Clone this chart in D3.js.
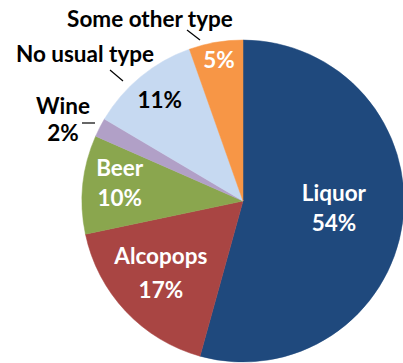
<!DOCTYPE html>
<html>
<head>
<meta charset="utf-8">
<script src="https://cdn.jsdelivr.net/npm/d3@7"></script>
<style>
  body { margin: 0; background: #fff; }
  text { font-family: Lato, "Open Sans", sans-serif; font-weight: 700; }
</style>
</head>
<body>
<div id="chart"></div>
<script>
var categories = ["Liquor", "Alcopops", "Beer", "Wine", "No usual type", "Some other type"];
var values = [54.3, 17.4, 9.9, 1.9, 11.1, 5.4];
var colors = ["#1F497D", "#A94543", "#8AA64E", "#B1A0C7", "#C6D9F1", "#F79646"];

var width = 403;
var height = 363;
var cx = 243, cy = 201, radius = 161;
var fontSize = 22.5;

// how far out (fraction of radius) the text sits inside each slice
var insideK = { "Liquor": 0.57, "Alcopops": 0.7, "Beer": 0.77, "No usual type": 0.815, "Some other type": 0.886, "Wine": null };
// labels showing the name inside the slice too, with the gap between the two lines
var nameInside = { "Liquor": 30, "Alcopops": 34, "Beer": 30 };
// outside labels: name position + leader line
var outside = {
  "Some other type": { x: 150, y: 27, line: [[187, 30], [200, 40]] },
  "No usual type": { x: 85, y: 62, line: [[110, 70], [123, 81]] },
  "Wine": { x: 63, y: 114, pctY: 141, line: [[82, 123], [95, 123]] }
};
var darkText = { "No usual type": true, "Wine": true };

var data = categories.map(function(c, i) { return { name: c, value: values[i], color: colors[i] }; });

var svg = d3.select('#chart')
  .append('svg')
  .attr('width', width)
  .attr('height', height);

var g = svg.append('g')
  .attr('transform', 'translate(' + cx + ',' + cy + ')');

var pie = d3.pie()
  .value(function(d) { return d.value; })
  .sort(null);

var arc = d3.arc()
  .innerRadius(0)
  .outerRadius(radius);

var arcs = pie(data);

g.selectAll('path')
  .data(arcs)
  .enter()
  .append('path')
  .attr('d', arc)
  .attr('fill', function(d) { return d.data.color; })
  .attr('stroke', function(d) { return d.data.color; })
  .attr('stroke-width', 0.5);

var pct = function(d) { return Math.round(d.data.value) + '%'; };

arcs.forEach(function(d) {
  var name = d.data.name;
  var fill = darkText[name] ? '#000' : '#fff';
  var k = insideK[name];
  if (k) {
    var mid = (d.startAngle + d.endAngle) / 2;
    var x = Math.sin(mid) * radius * k;
    var y = -Math.cos(mid) * radius * k;
    var gap = nameInside[name];
    if (gap) {
      g.append('text').attr('x', x).attr('y', y - gap / 2 + 3)
        .attr('text-anchor', 'middle').attr('font-size', fontSize).attr('fill', fill).text(name);
      g.append('text').attr('x', x).attr('y', y + gap / 2 + 3)
        .attr('text-anchor', 'middle').attr('font-size', fontSize).attr('fill', fill).text(pct(d));
    } else {
      g.append('text').attr('x', x).attr('y', y + 8)
        .attr('text-anchor', 'middle').attr('font-size', fontSize).attr('fill', fill).text(pct(d));
    }
  }
  var o = outside[name];
  if (o) {
    svg.append('text').attr('x', o.x).attr('y', o.y)
      .attr('text-anchor', 'middle').attr('font-size', fontSize).attr('fill', '#000').text(name);
    if (o.pctY) {
      svg.append('text').attr('x', o.x).attr('y', o.pctY)
        .attr('text-anchor', 'middle').attr('font-size', fontSize).attr('fill', '#000').text(pct(d));
    }
    svg.append('line')
      .attr('x1', o.line[0][0]).attr('y1', o.line[0][1])
      .attr('x2', o.line[1][0]).attr('y2', o.line[1][1])
      .attr('stroke', '#000').attr('stroke-width', 1.2);
  }
});
</script>
</body>
</html>
